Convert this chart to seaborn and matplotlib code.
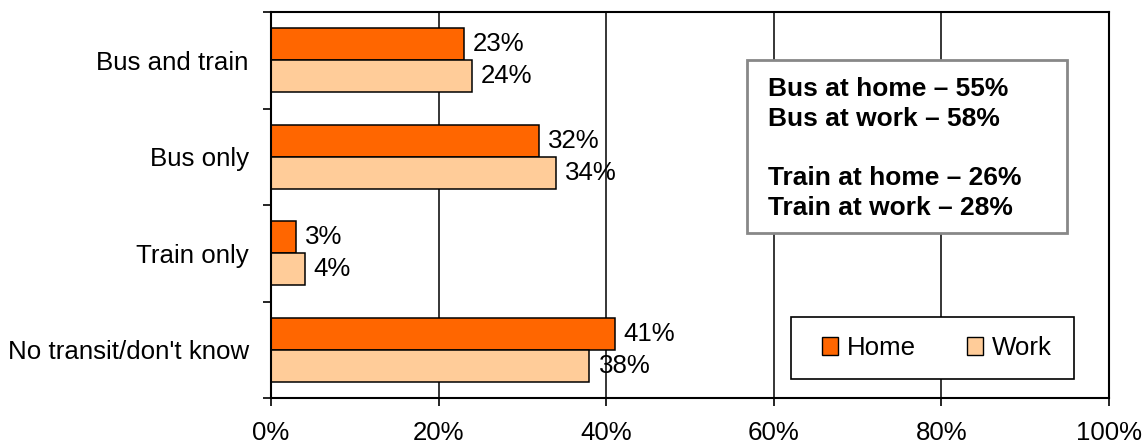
import matplotlib
matplotlib.use("Agg")
import matplotlib.pyplot as plt
import seaborn as sns
import pandas as pd
from matplotlib.patches import Patch, Rectangle

# Survey data: share of respondents with transit access near home / work
categories = ["Bus and train", "Bus only", "Train only", "No transit/don't know"]
home_values = [23, 32, 3, 41]
work_values = [24, 34, 4, 38]
series_names = ["Home", "Work"]
series_colors = ["#FF6600", "#FFCC99"]
x_ticks = [0, 20, 40, 60, 80, 100]
x_tick_labels = ["0%", "20%", "40%", "60%", "80%", "100%"]
summary_lines = [
    "Bus at home \u2013 55%",
    "Bus at work \u2013 58%",
    "",
    "Train at home \u2013 26%",
    "Train at work \u2013 28%",
]

df = pd.DataFrame({
    "Category": categories * 2,
    "Value": home_values + work_values,
    "Location": [series_names[0]] * len(categories) + [series_names[1]] * len(categories),
})

sns.set_theme(style="white")
plt.rcParams["font.family"] = ["Liberation Sans", "DejaVu Sans"]
plt.rcParams.update({
    "text.color": "black",
    "axes.labelcolor": "black",
    "xtick.color": "black",
    "ytick.color": "black",
})
FS = 18.6
FS_BOX = 19

fig = plt.figure(figsize=(11.46, 4.45), dpi=100)
ax = fig.add_axes([271 / 1146, 1 - 398 / 445, 838 / 1146, 386 / 445])

sns.barplot(
    data=df, y="Category", x="Value", hue="Location", orient="h",
    order=categories, hue_order=series_names, palette=series_colors,
    width=0.667, edgecolor="black", linewidth=1.1, ax=ax, legend=False,
    saturation=1.0,
)

# value labels at bar ends
for container, vals in zip(ax.containers, [home_values, work_values]):
    ax.bar_label(container, labels=[f"{v}%" for v in vals], padding=6.5,
                 fontsize=FS, color="black")

ax.set_xlim(0, 100)
ax.set_ylim(len(categories) - 0.5, -0.5)
ax.set_xlabel("")
ax.set_ylabel("")

ax.set_xticks(x_ticks)
ax.set_xticklabels(x_tick_labels, fontsize=FS)
ax.tick_params(axis="x", which="major", direction="out", length=5.5, width=1.2,
               color="black", labelcolor="black", pad=11, bottom=True)

# category labels centred, tick marks on the category boundaries
ax.set_yticks(range(len(categories)))
ax.set_yticklabels(categories, fontsize=FS)
ax.tick_params(axis="y", which="major", length=0, pad=16, labelcolor="black")
ax.set_yticks([i - 0.5 for i in range(len(categories) + 1)], minor=True)
ax.tick_params(axis="y", which="minor", direction="out", length=6, width=1.2,
               color="black", left=True)

ax.grid(False)
for x in x_ticks[1:-1]:
    ax.axvline(x, color="black", linewidth=1.1, zorder=0)

for sp in ax.spines.values():
    sp.set_visible(True)
    sp.set_color("black")
    sp.set_linewidth(1.5)

# summary box
box = Rectangle((0.568, 0.4275), 0.382, 0.448, transform=ax.transAxes,
                facecolor="white", edgecolor="#888888", linewidth=2.0, zorder=3)
ax.add_patch(box)
ax.text(0.593, 0.831, "\n".join(summary_lines), transform=ax.transAxes,
        ha="left", va="top", fontsize=FS_BOX, fontweight="bold", linespacing=1.30,
        color="black", zorder=4)

# legend with a plain black frame
leg_frame = Rectangle((0.6205, 0.0492), 0.3377, 0.1606, transform=ax.transAxes,
                      facecolor="white", edgecolor="black", linewidth=1.2, zorder=5)
ax.add_patch(leg_frame)
handles = [Patch(facecolor=c, edgecolor="black", linewidth=1.0) for c in series_colors]
leg = ax.legend(handles, series_names, loc="center left", bbox_to_anchor=(0.6575, 0.1295),
                ncol=2, fontsize=FS, frameon=False,
                handlelength=0.62, handleheight=0.65, handletextpad=0.33,
                columnspacing=2.0, borderpad=0, borderaxespad=0)
for t in leg.get_texts():
    t.set_color("black")
leg.set_zorder(6)

fig.savefig("out.png", dpi=100, facecolor="white")
